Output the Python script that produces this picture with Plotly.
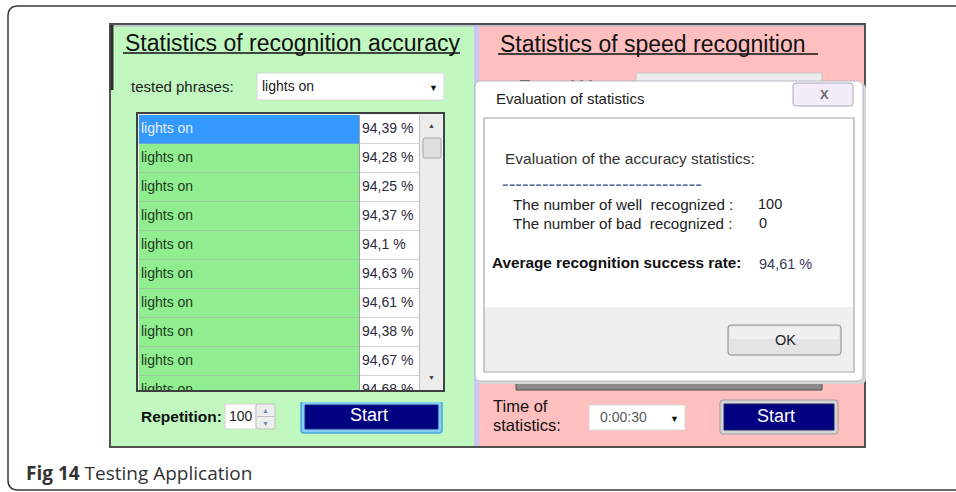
import plotly.graph_objects as go

# ---------------- data ----------------
phrases = ["lights on", "lights on", "lights on", "lights on", "lights on",
           "lights on", "lights on", "lights on", "lights on", "lights on"]
accuracy = [94.39, 94.28, 94.25, 94.37, 94.1, 94.63, 94.61, 94.38, 94.67, 94.68]
selected_phrase = "lights on"
repetition = 100
well_recognized = 100
bad_recognized = 0
average_rate = 94.61
stat_time = "0:00:30"

W, H = 956, 492
GUI = "Liberation Sans, Arial, sans-serif"

def pct(v):
    return str(v).replace(".", ",") + " %"

shapes = []
ann = []

def rect(x0, y0, x1, y1, fill=None, line=None, lw=1, layer="below"):
    shapes.append(dict(type="rect", xref="x", yref="y", x0=x0, y0=y0, x1=x1, y1=y1,
                       fillcolor=fill if fill else "rgba(0,0,0,0)",
                       line=dict(color=line if line else "rgba(0,0,0,0)", width=lw if line else 0),
                       layer=layer))

def rrect(x0, y0, x1, y1, r, fill=None, line=None, lw=1, layer="below"):
    p = (f"M {x0+r},{y0} L {x1-r},{y0} Q {x1},{y0} {x1},{y0+r} L {x1},{y1-r} "
         f"Q {x1},{y1} {x1-r},{y1} L {x0+r},{y1} Q {x0},{y1} {x0},{y1-r} "
         f"L {x0},{y0+r} Q {x0},{y0} {x0+r},{y0} Z")
    shapes.append(dict(type="path", xref="x", yref="y", path=p,
                       fillcolor=fill if fill else "rgba(0,0,0,0)",
                       line=dict(color=line if line else "rgba(0,0,0,0)", width=lw if line else 0),
                       layer=layer))

def hline(x0, x1, y, color, lw=1, layer="below", dash="solid"):
    shapes.append(dict(type="line", xref="x", yref="y", x0=x0, x1=x1, y0=y, y1=y,
                       line=dict(color=color, width=lw, dash=dash), layer=layer))

def vline(x, y0, y1, color, lw=1, layer="below"):
    shapes.append(dict(type="line", xref="x", yref="y", x0=x, x1=x, y0=y0, y1=y1,
                       line=dict(color=color, width=lw), layer=layer))

def text(x, y, s, size=14, color="#222", anchor="left", bold=False, family=GUI):
    if bold:
        s = f"<b>{s}</b>"
    ann.append(dict(x=x, y=y, xref="x", yref="y", text=s, showarrow=False,
                    xanchor=anchor, yanchor="middle",
                    font=dict(family=family, size=size, color=color)))

# ---------------- outer card ----------------
shapes.append(dict(type="path", xref="x", yref="y",
                   path="M 970,6 L 18,6 Q 8,6 8,16 L 8,480 Q 8,490 18,490 L 970,490",
                   line=dict(color="#3a3a3a", width=1.5), layer="below"))

# ---------------- application window ----------------
rect(111, 24, 474, 447, fill="#c0f8c0")
rect(474, 24, 479, 447, fill="#c8c8f6")
rect(479, 24, 865, 447, fill="#ffbfbf")
rect(110, 24, 865, 447, line="#505050", lw=2)
hline(112, 864, 26, "#b8b8d0", lw=1.5)
vline(112, 25, 90, "#303030", lw=3)

# titles
text(123, 43, "Statistics of recognition accuracy", size=23, color="#111")
hline(123, 460, 53, "#111", lw=1.6)
text(498, 44, "Statistics of speed recognition", size=23, color="#111")
hline(498, 818, 54, "#111", lw=1.6)

# tested phrases dropdown
text(129, 86, "tested phrases:", size=15, color="#222")
rect(257, 73, 444, 100, fill="white", line="#d8d8d8")
text(260, 86, selected_phrase, size=14, color="#222")
text(433, 88, "▼", size=9, color="#111", anchor="center")

# ---------------- table ----------------
row_h = 29
top = 115
clip = 391
rect(137, 113, 444, clip, fill="#f0f0f0")
for i, v in enumerate(accuracy):
    y0 = top + i * row_h
    y1 = min(y0 + row_h, clip)
    rect(139, y0, 359, y1, fill="#3399ff" if i == 0 else "#90ee90")
    rect(360, y0, 419, y1, fill="white")
    if y0 + row_h < clip:
        hline(139, 419, y0 + row_h, "#a8a8a8", lw=1)
vline(359.5, 115, clip, "#a0a0a0")
vline(419.5, 115, clip, "#c0c0c0")
# scrollbar
rect(420, 115, 442, 390, fill="#ececec")
rrect(423, 138, 441, 158, 2, fill="#dedede", line="#a4a4a4")
text(431, 125, "▲", size=7, color="#444", anchor="center")
text(431, 377, "▼", size=7, color="#444", anchor="center")

row_y = [top + row_h / 2 + i * row_h for i in range(len(accuracy))]
name_colors = ["#e8eeff"] + ["#1e3a1e"] * (len(phrases) - 1)
fig = go.Figure()
fig.add_trace(go.Scatter(x=[141] * len(phrases), y=row_y, mode="text", text=phrases,
                         textposition="middle right",
                         textfont=dict(family=GUI, size=14, color=name_colors),
                         hoverinfo="skip", showlegend=False))
fig.add_trace(go.Scatter(x=[362] * len(accuracy), y=row_y, mode="text",
                         text=[pct(v) for v in accuracy], textposition="middle right",
                         textfont=dict(family=GUI, size=14, color="#2a2a3a"),
                         hoverinfo="skip", showlegend=False))
# cover the clipped part of the last row
rect(130, clip, 446, 402, fill="#c0f8c0", layer="above")
rect(137, 113, 444, clip, line="#404040", lw=2, layer="above")

# repetition + start
text(139, 416, "Repetition:", size=15.5, color="#111", bold=True)
rect(225, 404, 256, 429, fill="white", line="#d4d4d4")
text(227, 416, str(repetition), size=14, color="#222")
rrect(256, 404, 275, 429, 2, fill="#eeeeee", line="#c0c0c0")
hline(257, 274, 416.5, "#c0c0c0")
text(265.5, 410, "▲", size=7, color="#6a8ab0", anchor="center")
text(265.5, 423, "▼", size=7, color="#6a8ab0", anchor="center")
rrect(301, 401, 442, 433, 3, fill="#86cdf2", line="#4aa6dc", lw=1.5)
rect(305, 405, 438, 429, fill="#000080", line="#1a2a8a")
text(369, 415, "Start", size=18, color="white", anchor="center")

# ---------------- right panel (behind dialog) ----------------
rect(636, 73, 822, 86, fill="#ececec", line="#c4c4c4")
hline(520, 530, 81, "#222", lw=2)
hline(571, 574, 81, "#444", lw=2)
hline(580, 583, 81, "#444", lw=2)
hline(589, 592, 81, "#444", lw=2)
rect(516, 370, 822, 390, fill="#8a8a8a", line="#505050", lw=1)

text(491, 406, "Time of", size=16.5, color="#111")
text(491, 425, "statistics:", size=16.5, color="#111")
rect(589, 405, 685, 430, fill="white", line="#d8d8d8")
text(598, 417, stat_time, size=14, color="#5a5a5a")
text(674, 419, "▼", size=9, color="#111", anchor="center")
rrect(720, 400, 838, 434, 3, fill="#d4d4d4", line="#9a9a9a", lw=1)
rect(724, 404, 834, 430, fill="#000080", line="#202060")
text(776, 416, "Start", size=18, color="white", anchor="center")

# ---------------- dialog ----------------
rrect(477, 83, 866, 384, 6, fill="#d6d6d6")
rrect(475, 81, 863, 381, 6, fill="white", line="#b8b8c4", lw=1)
text(494, 98, "Evaluation of statistics", size=15, color="#222")
rrect(793, 83, 853, 106, 3, fill="#f4ecf8", line="#a8a8b8")
text(824, 94, "X", size=13, color="#6a6a6a", anchor="center", bold=True)

rect(484, 118, 854, 372, fill="white", line="#a4a4a4", lw=1.2)
rect(485, 307, 853, 371, fill="#efefef")
text(503, 158, "Evaluation of the accuracy statistics:", size=15.5, color="#333")
text(500, 184, "-" * 30, size=20, color="#5a6a9a")
text(511, 204, "The number of well  recognized :", size=15.2, color="#222")
text(756, 204, str(well_recognized), size=14.5, color="#222")
text(511, 223, "The number of bad  recognized :", size=15.2, color="#222")
text(757, 223, str(bad_recognized), size=14.5, color="#222")
text(490, 262, "Average recognition success rate:", size=15.3, color="#111", bold=True)
text(757, 264, pct(average_rate), size=14.5, color="#3a3a5a")

rrect(728, 325, 841, 355, 3, fill="#e4e4e4", line="#8a8a8a", lw=1)
rect(730, 327, 839, 339, fill="#f0f0f0")
text(785, 340, "OK", size=14.5, color="#222", anchor="center")

# ---------------- caption ----------------
text(24, 473, "<b>Fig 14</b> Testing Application", size=19, color="#333",
     family="Open Sans, Noto Sans, sans-serif")

fig.update_layout(
    width=W, height=H, margin=dict(l=0, r=0, t=0, b=0),
    paper_bgcolor="white", plot_bgcolor="white",
    xaxis=dict(range=[0, W], visible=False, fixedrange=True),
    yaxis=dict(range=[H, 0], visible=False, fixedrange=True),
    shapes=shapes, annotations=ann, showlegend=False,
)
fig.write_html("out.html", config={"displayModeBar": False},
               post_script="document.body.style.margin='0';document.body.style.overflow='hidden';")
